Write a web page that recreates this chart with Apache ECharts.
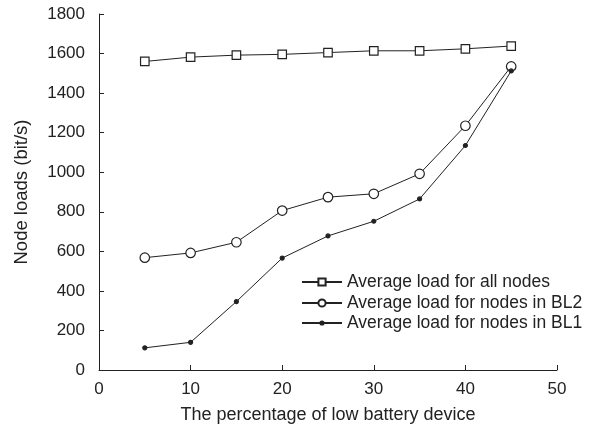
<!DOCTYPE html>
<html>
<head>
<meta charset="utf-8">
<script src="https://cdn.jsdelivr.net/npm/echarts@6/dist/echarts.min.js"></script>
<style>
html,body{margin:0;padding:0;background:#fff;}
#chart{width:594px;height:431px;}
</style>
</head>
<body>
<div id="chart"></div>
<script>
// Percentage of low battery devices
const percentages = [5, 10, 15, 20, 25, 30, 35, 40, 45];
// Node loads (bit/s)
const loadAllNodes = [1560, 1582, 1592, 1596, 1605, 1614, 1614, 1624, 1638];
const loadBL2 = [568, 592, 646, 806, 874, 891, 992, 1235, 1535];
const loadBL1 = [112, 140, 346, 566, 678, 752, 865, 1135, 1512];
const seriesNames = [
  'Average load for all nodes',
  'Average load for nodes in BL2',
  'Average load for nodes in BL1'
];

const ink = '#222';
const font = '"Liberation Sans", Arial, sans-serif';

function pairs(ys) {
  return percentages.map((x, i) => [x, ys[i]]);
}

function lineSeries(name, ys, symbol, size, fill) {
  return {
    name: name,
    type: 'line',
    data: pairs(ys),
    symbol: symbol,
    symbolSize: size,
    showAllSymbol: true,
    lineStyle: { color: ink, width: 1 },
    itemStyle: { color: fill, borderColor: ink, borderWidth: 1.2 },
    emphasis: { disabled: true },
    animation: false
  };
}

// one legend per entry so each key marker keeps its own size
function legendRow(name, top, markerHeight) {
  return {
    orient: 'vertical',
    left: 301,
    top: top,
    padding: 0,
    itemWidth: 40,
    itemHeight: markerHeight,
    data: [name],
    selectedMode: false,
    textStyle: { color: ink, fontSize: 17.5, fontFamily: font, lineHeight: 20 }
  };
}

const chart = echarts.init(document.getElementById('chart'));
chart.setOption({
  backgroundColor: '#fff',
  animation: false,
  grid: { left: 99, right: 37, top: 14, bottom: 61 },
  legend: [
    legendRow(seriesNames[0], 272, 9),
    legendRow(seriesNames[1], 293, 9),
    legendRow(seriesNames[2], 313, 4)
  ],
  xAxis: {
    type: 'value',
    min: 0,
    max: 50,
    interval: 10,
    name: 'The percentage of low battery device',
    nameLocation: 'middle',
    nameGap: 36,
    nameTextStyle: { color: ink, fontSize: 18, fontFamily: font },
    axisLine: { lineStyle: { color: ink, width: 1 } },
    axisTick: { inside: true, length: 5, lineStyle: { color: ink } },
    axisLabel: { color: ink, fontSize: 17, fontFamily: font, margin: 11 },
    splitLine: { show: false }
  },
  yAxis: {
    type: 'value',
    min: 0,
    max: 1800,
    interval: 200,
    name: 'Node loads (bit/s)',
    nameLocation: 'middle',
    nameGap: 68,
    nameTextStyle: { color: ink, fontSize: 18.5, fontFamily: font },
    axisLine: { lineStyle: { color: ink, width: 1 } },
    axisTick: { inside: true, length: 5, lineStyle: { color: ink } },
    axisLabel: {
      color: ink, fontSize: 17, fontFamily: font, margin: 14,
      formatter: v => String(v)
    },
    splitLine: { show: false }
  },
  series: [
    lineSeries(seriesNames[0], loadAllNodes, 'rect', 8.5, '#fff'),
    lineSeries(seriesNames[1], loadBL2, 'circle', 9.5, '#fff'),
    lineSeries(seriesNames[2], loadBL1, 'circle', 4, ink)
  ]
});
</script>
</body>
</html>
